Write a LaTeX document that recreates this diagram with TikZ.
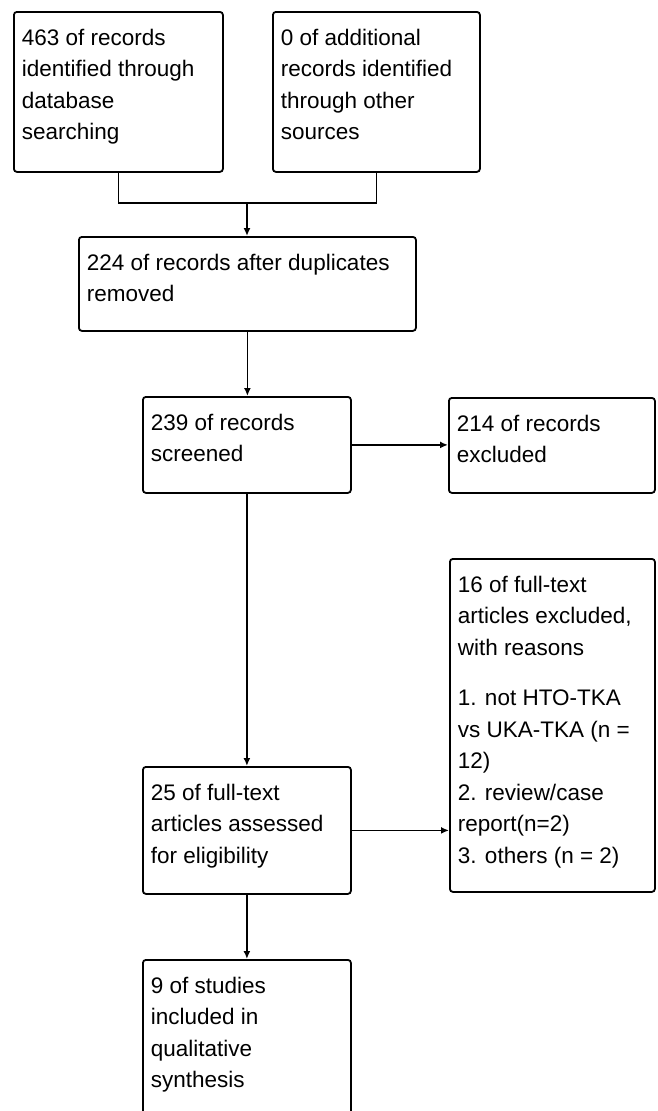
\documentclass[tikz,border=0pt]{standalone}
\usepackage{fontspec}
\setmainfont{Liberation Sans}
\usetikzlibrary{arrows.meta}
\newcommand{\bxt}[3]{\parbox[c][#2][t]{#1}{\leftskip=8pt\rightskip=0pt plus 1fil\parindent=0pt\vspace*{11.5pt}\strut #3}}
\begin{document}
\begin{tikzpicture}[x=1pt,y=-1pt,
  box/.style={draw, line width=1.8pt, rounded corners=3pt, inner sep=0pt, anchor=north west, font=\fontsize{22.5}{31.5}\selectfont},
  ln/.style={line width=1.8pt},
  arr/.style={line width=1.8pt, -{Latex[length=8pt,width=7pt]}}]
\useasboundingbox (0,0) rectangle (657,1111);
\clip (0,0) rectangle (657,1111);
\node[box] (A) at (13,11) {\bxt{209pt}{160pt}{463 of records\\identified through\\database\\searching}};
\node[box] (B) at (272,11) {\bxt{207pt}{160pt}{0 of additional\\records identified\\through other\\sources}};
\node[box] (C) at (78,236) {\bxt{337pt}{94pt}{224 of records after duplicates\\removed}};
\node[box] (D) at (142,396) {\bxt{208pt}{96pt}{239 of records\\screened}};
\node[box] (E) at (448,397) {\bxt{206pt}{95pt}{214 of records\\excluded}};
\node[box] (H) at (449,558) {\bxt{205pt}{333pt}{16 of full-text\\articles excluded,\\with reasons\\[19pt]1. not HTO-TKA\\vs UKA-TKA (n =\\12)\\2. review/case\\report(n=2)\\3. others (n = 2)}};
\node[box] (F) at (142,766) {\bxt{208pt}{127pt}{25 of full-text\\articles assessed\\for eligibility}};
\node[box] (G) at (142,959) {\bxt{208pt}{180pt}{9 of studies\\included in\\qualitative\\synthesis}};
\coordinate (m) at (247,203);
\draw[ln] (A.south) |- (m) -| (B.south);
\draw[arr] (m) -- (m |- C.north);
\draw[arr] (C.south) -- (C.south |- D.north);
\draw[arr] (D.east) -- (D.east -| E.west);
\draw[arr] (D.south) -- (F.north);
\draw[arr] (F.east) -- (F.east -| H.west);
\draw[arr] (F.south) -- (G.north);
\end{tikzpicture}
\end{document}
